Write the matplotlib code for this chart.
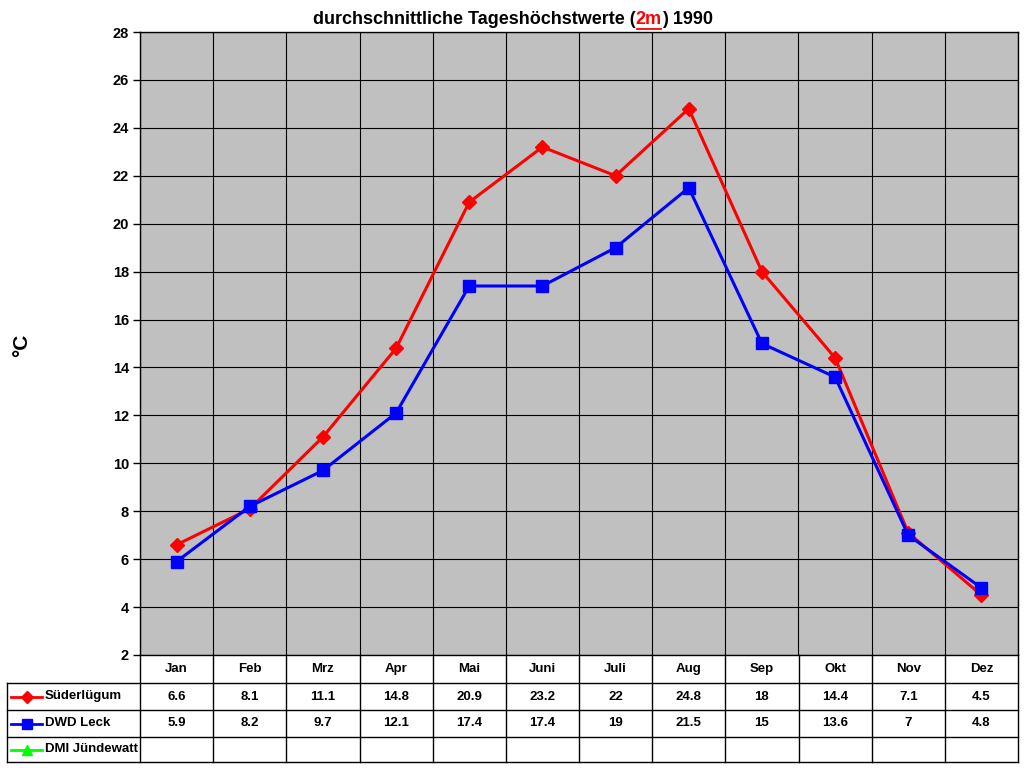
import matplotlib
matplotlib.use("Agg")
import matplotlib.pyplot as plt
from matplotlib.lines import Line2D
import numpy as np

months = ["Jan", "Feb", "Mrz", "Apr", "Mai", "Juni", "Juli", "Aug", "Sep", "Okt", "Nov", "Dez"]
suederluegum = [6.6, 8.1, 11.1, 14.8, 20.9, 23.2, 22, 24.8, 18, 14.4, 7.1, 4.5]
dwd_leck = [5.9, 8.2, 9.7, 12.1, 17.4, 17.4, 19, 21.5, 15, 13.6, 7, 4.8]
dmi_juendewatt = [None] * 12
series_names = ["Süderlügum", "DWD Leck", "DMI Jündewatt"]
y_ticks = list(range(2, 29, 2))

plt.rcParams['font.family'] = ['Liberation Sans', 'DejaVu Sans']
W, H = 1024, 768
fig = plt.figure(figsize=(W / 100, H / 100), dpi=100)

def fx(px):
    return px / W

def fy(py):
    return 1 - py / H

L, R, T, B = 140, 1018, 32, 655
ax = fig.add_axes([fx(L), fy(B), fx(R) - fx(L), fy(T) - fy(B)])
ax.set_facecolor("#c0c0c0")
ax.set_xlim(0, 12)
ax.set_ylim(2, 28)
ax.set_yticks(y_ticks)
ax.set_yticklabels([str(t) for t in y_ticks], fontsize=10.5, fontweight="bold")
ax.set_xticks(np.arange(0, 13))
ax.set_xticklabels([])
ax.tick_params(axis="x", length=0)
ax.tick_params(axis="y", length=5, width=1, direction="out", pad=3)
ax.grid(True, color="black", linewidth=0.8)
ax.set_axisbelow(True)
for s in ax.spines.values():
    s.set_color("black")
    s.set_linewidth(1)

x = np.arange(12) + 0.5
ax.plot(x, suederluegum, color="#ff0000", lw=2.2, marker="D", ms=7, mfc="#ff0000", mec="#ff0000", zorder=3)
ax.plot(x, dwd_leck, color="#0000ff", lw=2.2, marker="s", ms=8.5, mfc="#0000ff", mec="#0000ff", zorder=4)

fig.text(fx(22), fy(345), "°C", rotation=90, fontsize=15, fontweight="bold", ha="center", va="center")

# title composed of parts
fig.canvas.draw()
renderer = fig.canvas.get_renderer()
parts = [("durchschnittliche Tageshöchstwerte (", "black", False), ("2m", "#ff0000", True), (") 1990", "black", False)]
tsize = 13
widths = []
for txt, c, u in parts:
    t = fig.text(0, 0, txt, fontsize=tsize, fontweight="bold")
    bb = t.get_window_extent(renderer)
    widths.append(bb.width)
    t.remove()
total = sum(widths)
cx = 513
start = cx - total / 2
ty = 19
for (txt, c, u), w in zip(parts, widths):
    fig.text(fx(start), fy(ty), txt, fontsize=tsize, fontweight="bold", color=c, ha="left", va="center")
    if u:
        fig.add_artist(Line2D([fx(start + 1), fx(start + w - 1)], [fy(ty + 10), fy(ty + 10)], color=c, lw=1.3))
    start += w

# table
lc = "black"
lw = 1
col_w = (R - L) / 12
rows_y = [655, 683, 710, 737, 762]
TL = 7
def hline(y, x0, x1):
    fig.add_artist(Line2D([fx(x0), fx(x1)], [fy(y), fy(y)], color=lc, lw=lw))
def vline(xp, y0, y1):
    fig.add_artist(Line2D([fx(xp), fx(xp)], [fy(y0), fy(y1)], color=lc, lw=lw))

for y in rows_y[1:]:
    hline(y, TL, R)
for i in range(13):
    vline(L + i * col_w, 655, 762)
vline(TL, 683, 762)

tfs = 9.5
for i, m in enumerate(months):
    fig.text(fx(L + (i + 0.5) * col_w), fy(669), m, fontsize=tfs, fontweight="bold", ha="center", va="center")

data_rows = [suederluegum, dwd_leck, dmi_juendewatt]
styles = [("#ff0000", "D", 6), ("#0000ff", "s", 7), ("#00ff00", "^", 7)]
for r, (vals, name, (c, mk, ms)) in enumerate(zip(data_rows, series_names, styles)):
    yc = (rows_y[r + 1] + rows_y[r + 2]) / 2
    fig.add_artist(Line2D([fx(11), fx(42)], [fy(yc), fy(yc)], color=c, lw=2))
    fig.add_artist(Line2D([fx(26.5)], [fy(yc)], color=c, marker=mk, ms=ms, mfc=c, mec=c))
    fig.text(fx(45), fy(yc), name, fontsize=tfs, fontweight="bold", ha="left", va="center")
    for i, v in enumerate(vals):
        if v is None:
            continue
        fig.text(fx(L + (i + 0.5) * col_w), fy(yc), f"{v:g}", fontsize=tfs, fontweight="bold", ha="center", va="center")

fig.savefig("out.png", dpi=100)
